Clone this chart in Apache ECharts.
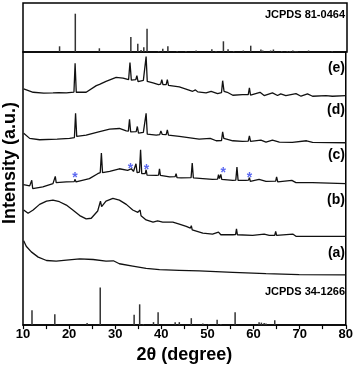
<!DOCTYPE html>
<html>
<head>
<meta charset="utf-8">
<script src="https://cdn.jsdelivr.net/npm/echarts@6/dist/echarts.min.js"></script>
<style>
html, body { margin: 0; padding: 0; background: #fff; }
#chart { width: 356px; height: 369px; }
</style>
</head>
<body>
<div id="chart"></div>
<script>
// reference patterns, [2theta, relative height]
const ref81_0464 = [[17.9,5.7],[21.3,38.3],[26.5,3.7],[33.3,15],[34.8,8.3],[35.5,2],[36.1,4.7],[36.8,23.3],[39.3,1],[40.2,3.3],[41.3,5.7],[43.3,1],[45.2,1],[47.4,1.5],[50.8,2.7],[51.7,1],[53.3,10.7],[54.3,2.7],[55.5,1],[57.6,1.5],[59.2,6.3],[61.4,2.5],[61.8,1.5],[63.5,1.5],[64.1,2.5],[65.9,1],[67.1,1],[67.7,1],[68.3,1.5],[68.8,1],[69.2,1],[71.7,1.5],[76.8,1]];
const ref34_1266 = [[11.95,15],[16.9,11],[23.9,2],[26.75,38],[34.1,10.5],[35.3,21],[36.1,1],[38.3,3],[39.3,13],[43.0,3],[43.9,3],[46.5,7],[49.0,1.5],[50.3,1],[52.1,5.5],[52.9,1],[56.0,13],[61.2,3],[61.7,2.5],[62.3,2],[62.7,1.5],[64.6,5]];

// measured patterns (stacked, offsets already in the values)
const curveE = [[10.15,238.7],[12.2,235.3],[14.5,234.5],[16.5,234.7],[17.7,235],[17.9,236.7],[18.1,235],[19.4,234.7],[21.05,235.5],[21.3,264.7],[21.55,235.3],[23.7,235.3],[25.9,242],[26.2,243.7],[26.6,243.3],[28.0,246.3],[30.2,250.3],[31.7,249.7],[32.9,248],[33.2,265.3],[33.5,247.5],[34.45,248],[34.7,252],[34.95,246],[35.3,244.7],[36.1,247.3],[36.45,246.5],[36.7,271.3],[36.95,246.3],[38.2,244.7],[39.4,243],[39.85,243.5],[40.1,248],[40.35,243],[41.05,243],[41.3,248],[41.55,242.3],[43.9,240.7],[46.8,236.3],[47.4,237.7],[47.9,235.7],[49.7,234.7],[50.8,236.3],[52.2,234],[53.05,235],[53.3,247],[53.6,236.3],[54.3,235.3],[55.5,232.3],[57.6,233],[58.85,233],[59.1,239.7],[59.35,232.3],[61.4,235.3],[62.3,232],[64.1,234.7],[65.2,232],[65.9,233.7],[67.0,232],[69.2,234],[70.3,231.3],[71.7,233.7],[72.8,231.3],[75.7,232],[77.1,231.3],[80,232]];
const curveD = [[10.15,194],[11.45,188.7],[13.6,187.3],[17.4,188],[17.6,189],[17.8,188],[20.1,188.7],[21.15,189.5],[21.4,214],[21.65,190.7],[23.7,192],[26.2,195],[26.4,196.5],[26.6,195.3],[28.8,198],[30.9,198.7],[32.4,196.3],[32.85,196],[33.1,208],[33.35,195.3],[34.55,195.5],[34.8,200.7],[35.05,194],[36.1,194.7],[36.45,194.5],[36.7,214],[36.95,193],[38.9,192],[39.65,192.5],[39.9,196.3],[40.2,192.7],[41.05,192.5],[41.3,197.3],[41.55,192],[43.9,190.7],[48.2,188],[50.6,188.7],[51.9,186.3],[53.05,186.5],[53.3,195.3],[53.55,188.7],[55.5,186.3],[57.6,185.7],[58.85,186],[59.1,191.3],[59.35,185.7],[61.6,187],[62.7,185],[64.1,187],[65.6,185],[68.4,184.7],[71.5,186.3],[72.8,184.7],[80,184.3]];
const curveC = [[10.1,142],[11.45,140.7],[11.75,140],[11.9,146.3],[12.1,138],[14.3,139.7],[16.5,143],[16.8,143.5],[17.0,150.3],[17.2,144],[19.4,144.7],[21.1,145],[21.3,147.3],[21.5,144.7],[24.4,148],[26.2,153],[26.75,154],[27.0,174],[27.25,154],[28.8,155.3],[30.9,158],[32.7,156.3],[33.5,158],[33.96,155.3],[34.3,155],[34.5,163],[34.75,154],[35.25,154.5],[35.5,177.3],[35.75,153],[36.5,153],[36.7,157],[36.9,151.5],[38.9,151.3],[39.4,151.5],[39.6,158],[39.8,151.3],[41.8,149.7],[43.0,150],[43.2,153],[43.4,149],[44.3,148.7],[46.45,149],[46.7,163.7],[46.95,148.7],[49.0,148],[51.1,147.3],[52.2,147.5],[52.4,152],[52.6,148],[52.9,152.3],[53.1,147.3],[55.5,146.3],[56.15,146.5],[56.4,159.7],[56.65,146.3],[58.3,146.3],[58.9,146.5],[59.1,149],[59.3,145.3],[61.2,147.3],[62.7,145.3],[64.8,145.5],[65.0,149.7],[65.25,144.7],[68.3,146.3],[69.2,144],[72.8,144],[80,143]];
const curveB = [[10.15,116.3],[11.1,113],[12.2,116.3],[13.6,122],[15.1,125.3],[16.5,126.3],[17.9,124.7],[19.4,121.3],[20.8,116.3],[22.3,110.7],[23.7,107.3],[24.8,108],[26.2,115.3],[26.6,117],[26.8,125.3],[27.05,119.7],[28.0,125.3],[29.5,128],[30.9,126.3],[32.4,122],[33.8,116.3],[34.9,114],[35.2,113],[35.4,116.3],[35.6,110.5],[36.7,106.3],[38.2,104],[39.2,105.3],[40.3,104],[42.5,104],[43.9,102],[45.4,99.7],[46.3,98],[46.5,100.5],[46.7,96.3],[49.0,93],[51.1,92],[52.4,94],[52.9,91.3],[55.5,91.3],[56.1,91.5],[56.3,97.3],[56.5,91.3],[59.8,90.7],[62.3,92],[63.4,90.7],[64.6,90.8],[64.8,94.7],[65.0,90.7],[68.5,92],[69.2,89.7],[80,89.7]];
const curveA = [[10.15,85.3],[10.7,79.7],[11.8,74],[13.3,68.7],[15.1,65.3],[17.2,64.7],[19.4,65.7],[22.3,67],[25.2,66.3],[28.0,64.7],[29.6,65],[30.9,62],[33.8,59.7],[36.7,57.3],[39.6,56],[43.9,55.3],[48.2,54.7],[55.5,53.3],[62.7,52],[69.9,51],[80,50.7]];

// asterisks marking the impurity peaks on (c)
const starPoints = [[21.26,151.3],[33.3,160.7],[36.8,159.7],[53.4,156.3],[59.1,152]];

const curveLabels = [["(e)", 68], ["(d)", 110], ["(c)", 155], ["(b)", 200], ["(a)", 253]];

const FONT = "Liberation Sans, Arial, sans-serif";

function sticks(gridIdx, data) {
  return {
    type: "custom",
    xAxisIndex: gridIdx,
    yAxisIndex: gridIdx,
    data: data,
    renderItem(params, api) {
      const p0 = api.coord([api.value(0), 0]);
      const p1 = api.coord([api.value(0), api.value(1)]);
      return {
        type: "line",
        shape: { x1: p0[0], y1: p0[1], x2: p1[0], y2: p1[1] },
        style: { stroke: "#333", lineWidth: 1.5 },
      };
    },
  };
}

function curve(data) {
  return {
    type: "line",
    xAxisIndex: 1,
    yAxisIndex: 1,
    data: data,
    showSymbol: false,
    symbol: "none",
    lineStyle: { color: "#111", width: 1.3 },
    silent: true,
  };
}

const chart = echarts.init(document.getElementById("chart"));
chart.setOption({
  animation: false,
  grid: [
    { left: 23, right: 9, top: 3, height: 49, show: true, borderColor: "#000", borderWidth: 1.5 },
    { left: 23, right: 9, top: 52, height: 276, show: true, borderColor: "#000", borderWidth: 1.5 },
  ],
  xAxis: [
    {
      gridIndex: 0, type: "value", min: 10, max: 80, interval: 10,
      axisLine: { show: false }, axisTick: { show: false },
      axisLabel: { show: false }, splitLine: { show: false },
    },
    {
      gridIndex: 1, type: "value", min: 10, max: 80, interval: 10,
      axisLine: { show: true, lineStyle: { color: "#000", width: 1.5 } },
      axisTick: { show: true, inside: false, length: 4, lineStyle: { color: "#000", width: 1.2 } },
      minorTick: { show: true, splitNumber: 2, length: 4, lineStyle: { color: "#000", width: 1.2 } },
      axisLabel: { color: "#000", fontSize: 13, fontWeight: "bold", fontFamily: FONT, margin: 3 },
      splitLine: { show: false },
      name: "2\u03b8 (degree)",
      nameLocation: "middle",
      nameGap: 20,
      nameTextStyle: { color: "#000", fontSize: 18, fontWeight: "bold", fontFamily: FONT },
    },
  ],
  yAxis: [
    {
      gridIndex: 0, type: "value", min: 0, max: 49,
      axisLine: { show: false }, axisTick: { show: false },
      axisLabel: { show: false }, splitLine: { show: false },
    },
    {
      gridIndex: 1, type: "value", min: 0, max: 276,
      axisLine: { show: false }, axisTick: { show: false },
      axisLabel: { show: false }, splitLine: { show: false },
    },
  ],
  graphic: [
    {
      type: "text", x: 10, y: 163, rotation: Math.PI / 2,
      style: { text: "Intensity (a.u.)", fill: "#000", font: "bold 18px " + FONT, textAlign: "center", textVerticalAlign: "middle" },
    },
    {
      type: "text", x: 345, y: 15,
      style: { text: "JCPDS 81-0464", fill: "#000", font: "bold 11px " + FONT, textAlign: "right", textVerticalAlign: "middle" },
    },
    {
      type: "text", x: 345, y: 292,
      style: { text: "JCPDS 34-1266", fill: "#000", font: "bold 11px " + FONT, textAlign: "right", textVerticalAlign: "middle" },
    },
  ].concat(curveLabels.map(([t, y]) => ({
    type: "text", x: 345, y: y,
    style: { text: t, fill: "#000", font: "bold 14px " + FONT, textAlign: "right", textVerticalAlign: "middle" },
  }))),
  series: [
    sticks(0, ref81_0464),
    sticks(1, ref34_1266),
    curve(curveE),
    curve(curveD),
    curve(curveC),
    curve(curveB),
    curve(curveA),
    {
      type: "scatter",
      xAxisIndex: 1,
      yAxisIndex: 1,
      data: starPoints,
      symbolSize: 0,
      label: {
        show: true,
        position: "inside",
        formatter: "*",
        color: "#3344ee",
        fontSize: 14,
        fontWeight: "bold",
        fontFamily: FONT,
        offset: [0, 3],
      },
    },
  ],
});
</script>
</body>
</html>
